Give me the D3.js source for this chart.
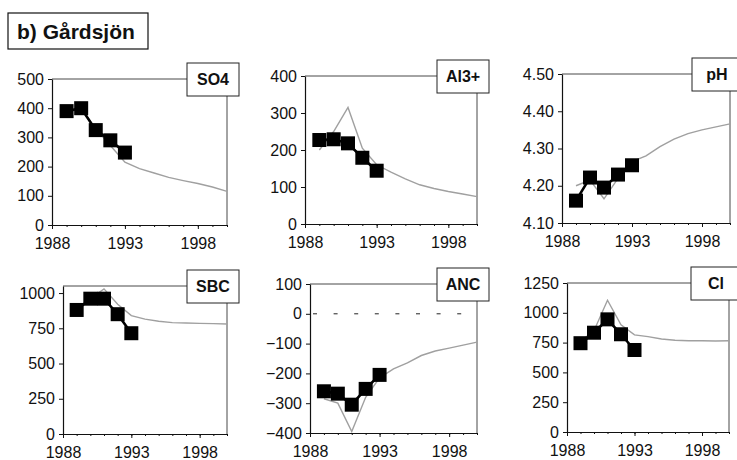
<!DOCTYPE html>
<html lang="en">
<head>
  <meta charset='utf-8'>
  <title>Gårdsjön</title>
  <style>
    body { margin: 0; background: #ffffff; }
    svg { display: block; font-family: "Liberation Sans", Arial, sans-serif; }
    .tick text { font-size: 16px; fill: #111; }
  </style>
</head>
<body>
  <div id="chart"></div>
</body>

<script src="https://d3js.org/d3.v7.min.js"></script>
<script>

  ////////////////////////////////////////////////// DATA

  // observed yearly values (black squares)
  var obsYears   = [1989, 1990, 1991, 1992, 1993];
  // modelled values (grey line)
  var modelYears = [1989, 1990, 1991, 1992, 1993, 1994, 1995, 1996, 1997, 1998, 1999, 2000];

  var so4Obs   = [390, 400, 325, 290, 248];
  var so4Model = [390, 400, 330, 272, 215, 193, 178, 163, 152, 142, 130, 115];

  var al3Obs   = [227, 229, 218, 179, 144];
  var al3Model = [200, 250, 315, 205, 160, 140, 122, 106, 96, 88, 81, 74];

  var phObs    = [4.16, 4.222, 4.195, 4.23, 4.255];
  var phModel  = [4.20, 4.215, 4.165, 4.22, 4.265, 4.28, 4.305, 4.325, 4.34, 4.35, 4.358, 4.366];

  var sbcObs   = [880, 960, 960, 850, 715];
  var sbcModel = [880, 960, 1030, 920, 840, 815, 800, 790, 787, 785, 783, 780];

  var ancObs   = [-260, -268, -305, -252, -205];
  var ancModel = [-285, -300, -395, -280, -215, -185, -165, -140, -125, -115, -105, -95];

  var clObs    = [745, 833, 945, 820, 688];
  var clModel  = [760, 850, 1105, 900, 815, 800, 780, 770, 766, 765, 763, 765];

  // axis ticks
  var yearTicks  = [1988, 1993, 1998];
  var minorYears = [1988, 1989, 1990, 1991, 1992, 1993, 1994, 1995, 1996, 1997, 1998, 1999, 2000];
  var so4Ticks = [0, 100, 200, 300, 400, 500];
  var al3Ticks = [0, 100, 200, 300, 400];
  var phTicks  = [4.10, 4.20, 4.30, 4.40, 4.50];
  var sbcTicks = [0, 250, 500, 750, 1000];
  var ancTicks = [-400, -300, -200, -100, 0, 100];
  var clTicks  = [0, 250, 500, 750, 1000, 1250];

  // ANC zero reference line (start / end year)
  var zeroSpan = [1988, 1999];

  ////////////////////////////////////////////////// LAYOUT

  var width = 737, height = 460;

  // plot area boxes: left, top, right, bottom
  var panels = [
    {name: "SO4",  obs: so4Obs, model: so4Model, ticks: so4Ticks, domain: [0, 500],     fmt: d3.format("d"),   box: [52, 79, 227, 225]},
    {name: "Al3+", obs: al3Obs, model: al3Model, ticks: al3Ticks, domain: [0, 400],     fmt: d3.format("d"),   box: [305, 76, 477, 224]},
    {name: "pH",   obs: phObs,  model: phModel,  ticks: phTicks,  domain: [4.10, 4.50], fmt: d3.format(".2f"), box: [562, 74, 730, 223]},
    {name: "SBC",  obs: sbcObs, model: sbcModel, ticks: sbcTicks, domain: [0, 1050],    fmt: d3.format("d"),   box: [63, 286, 227, 434]},
    {name: "ANC",  obs: ancObs, model: ancModel, ticks: ancTicks, domain: [-400, 100],  fmt: d3.format("d"),   box: [310, 284, 477, 433], zero: true},
    {name: "Cl",   obs: clObs,  model: clModel,  ticks: clTicks,  domain: [0, 1250],    fmt: d3.format("d"),   box: [567, 283, 729, 432]}
  ];

  ////////////////////////////////////////////////// SETUP

  var svg = d3.select("#chart").append("svg")
              .attr("width", width)
              .attr("height", height);

  // title box
  svg.append("rect")
     .attr("x", 8).attr("y", 13)
     .attr("width", 140).attr("height", 36)
     .attr("fill", "#fff")
     .attr("stroke", "#111")
     .attr("stroke-width", 1.2);

  svg.append("text")
     .attr("x", 17).attr("y", 39)
     .attr("font-size", 21)
     .attr("font-weight", "bold")
     .attr("fill", "#111")
     .text("b) Gårdsjön");

  panels.forEach(drawPanel);

  ////////////////////////////////////////////////// FUNCTIONS

  function drawPanel(p){
    var left = p.box[0], top = p.box[1], right = p.box[2], bottom = p.box[3];

    var x = d3.scaleLinear().domain([1988, 2000]).range([left, right]);
    var y = d3.scaleLinear().domain(p.domain).range([bottom, top]);

    var g = svg.append("g");

    // plot area frame (top / right)
    g.append("path")
     .attr("d", "M" + left + "," + top + "H" + right + "V" + bottom)
     .attr("fill", "none")
     .attr("stroke", "#333")
     .attr("stroke-width", 0.9);

    // zero line for ANC
    if (p.zero) {
      g.append("line")
       .attr("x1", x(zeroSpan[0]) + 3).attr("x2", x(zeroSpan[1]))
       .attr("y1", y(0)).attr("y2", y(0))
       .attr("stroke", "#222")
       .attr("stroke-width", 1)
       .attr("stroke-dasharray", "4 16.6");
    }

    // modelled line
    var modelData = modelYears.map(function(d, i){ return [d, p.model[i]]; });
    g.append("path")
     .datum(modelData)
     .attr("fill", "none")
     .attr("stroke", "#a0a0a0")
     .attr("stroke-width", 1.4)
     .attr("d", d3.line().x(function(d){ return x(d[0]); }).y(function(d){ return y(d[1]); }));

    // observed line + squares
    var obsData = obsYears.map(function(d, i){ return [d, p.obs[i]]; });
    g.append("path")
     .datum(obsData)
     .attr("fill", "none")
     .attr("stroke", "#000")
     .attr("stroke-width", 2.6)
     .attr("d", d3.line().x(function(d){ return x(d[0]); }).y(function(d){ return y(d[1]); }));

    g.selectAll("rect.obs")
     .data(obsData)
     .enter()
     .append("rect")
     .attr("class", "obs")
     .attr("x", function(d){ return x(d[0]) - 7; })
     .attr("y", function(d){ return y(d[1]) - 7; })
     .attr("width", 14)
     .attr("height", 14)
     .attr("fill", "#000");

    // y axis
    var yAxis = g.append("g")
                 .attr("transform", "translate(" + left + ",0)")
                 .call(d3.axisLeft(y).tickValues(p.ticks).tickFormat(p.fmt).tickSizeInner(4).tickSizeOuter(0).tickPadding(4));
    yAxis.select(".domain").attr("stroke", "#111").attr("stroke-width", 1.2);
    yAxis.selectAll(".tick line").attr("stroke", "#111");
    yAxis.selectAll(".tick text").attr("font-family", null).attr("font-size", null);

    // x axis: minor ticks each year, labels every 5 years
    var xMinor = g.append("g")
                  .attr("transform", "translate(0," + bottom + ")")
                  .call(d3.axisBottom(x).tickValues(minorYears).tickFormat("").tickSizeInner(2).tickSizeOuter(0));
    xMinor.select(".domain").attr("stroke", "#111").attr("stroke-width", 1.2);
    xMinor.selectAll(".tick line").attr("stroke", "#111");

    var xAxis = g.append("g")
                 .attr("transform", "translate(0," + bottom + ")")
                 .call(d3.axisBottom(x).tickValues(yearTicks).tickFormat(d3.format("d")).tickSizeInner(4).tickSizeOuter(0).tickPadding(9));
    xAxis.select(".domain").remove();
    xAxis.selectAll(".tick line").attr("stroke", "#111");
    xAxis.selectAll(".tick text").attr("font-family", null).attr("font-size", null);

    // label box in the top right corner
    var boxW = p.name.length > 2 ? 52 : 50;
    var bx = right - boxW + 12;
    g.append("rect")
     .attr("x", bx).attr("y", top - 16)
     .attr("width", boxW).attr("height", 33)
     .attr("fill", "#fff")
     .attr("stroke", "#222")
     .attr("stroke-width", 1);

    g.append("text")
     .attr("x", bx + boxW / 2).attr("y", top + 6)
     .attr("text-anchor", "middle")
     .attr("font-size", 16)
     .attr("font-weight", "bold")
     .attr("fill", "#111")
     .text(p.name);
  }

</script>
</html>
